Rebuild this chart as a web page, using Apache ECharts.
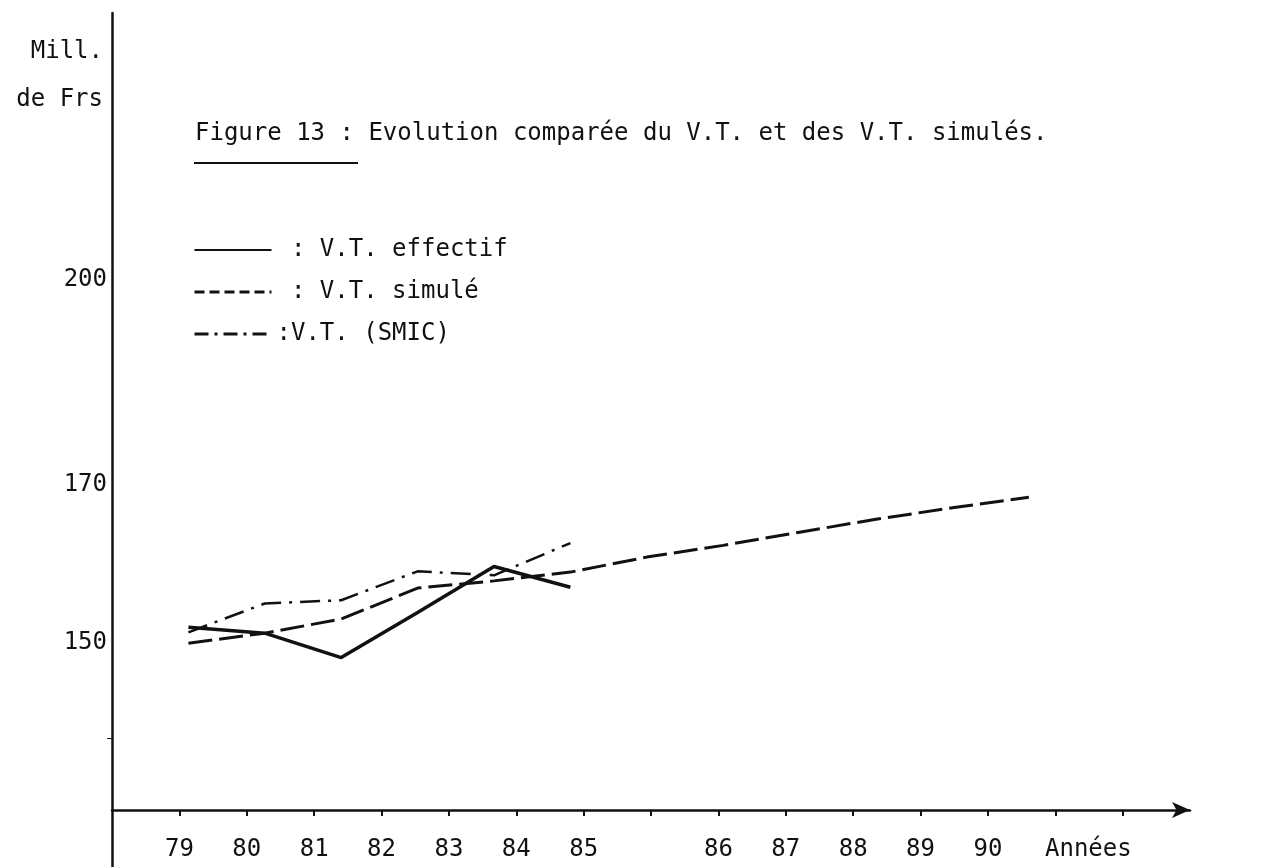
<!DOCTYPE html>
<html>
<head>
<meta charset="utf-8">
<title>Figure 13</title>
<script src="https://cdn.jsdelivr.net/npm/echarts@6/dist/echarts.min.js"></script>
<style>
  html, body { margin: 0; padding: 0; background: #fff; }
  #chart { width: 1265px; height: 867px; }
</style>
</head>
<body>
<div id="chart"></div>
<script>
// années (abscisse des courbes)
const years = [79, 80, 81, 82, 83, 84, 85, 86, 87, 88, 89, 90];
// V.T. en millions de francs
const vtEffectif = [151.8, 151.1, 148.2, 153.6, 159.3, 156.7];
const vtSimule = [149.9, 151.1, 152.8, 156.6, 157.5, 158.6, 160.5, 162.0, 163.7, 165.4, 166.9, 168.3];
const vtSmic = [151.2, 154.7, 155.1, 158.7, 158.2, 162.3];
// libellés sous les graduations de l'axe dessiné (une graduation sans libellé)
const tickLabels = ['79', '80', '81', '82', '83', '84', '85', '', '86', '87', '88', '89', '90', '', ''];
const yLabels = [150, 170, 200];

const seriesNames = ['V.T. effectif', 'V.T. simulé', 'V.T. (SMIC)'];
const legendTexts = [' : V.T. effectif', ' : V.T. simulé', ':V.T. (SMIC)'];

const FONT = "'DejaVu Sans Mono', monospace";
const INK = '#111';

function pairs(values) {
  return values.map((v, i) => [years[i], v]);
}

const chart = echarts.init(document.getElementById('chart'));

const option = {
  animation: false,
  backgroundColor: '#fff',
  title: {
    text: 'Figure 13 : Evolution comparée du V.T. et des V.T. simulés.',
    left: 195,
    top: 122,
    padding: 0,
    textStyle: { fontFamily: FONT, fontSize: 24, fontWeight: 'normal', color: INK }
  },
  legend: {
    orient: 'vertical',
    left: 193,
    top: 237,
    padding: 0,
    itemWidth: 77,
    itemHeight: 14,
    itemGap: 16,
    itemStyle: { opacity: 0 },
    textStyle: { fontFamily: FONT, fontSize: 24, lineHeight: 26, color: INK },
    formatter: name => legendTexts[seriesNames.indexOf(name)],
    data: [
      { name: seriesNames[0], lineStyle: { width: 2, type: 'solid' } },
      { name: seriesNames[1], lineStyle: { width: 3, type: [10, 5] } },
      { name: seriesNames[2], lineStyle: { width: 3, type: [14, 6, 3, 6] } }
    ]
  },
  grid: { left: 112, right: 75, top: 13, bottom: 0 },
  xAxis: [
    // échelle des courbes
    {
      type: 'value',
      min: 78,
      max: 92.11,
      show: false
    },
    // axe dessiné avec ses graduations
    {
      type: 'value',
      position: 'bottom',
      offset: -57,
      min: -1,
      max: 15,
      interval: 1,
      name: 'Années',
      nameLocation: 'end',
      nameGap: -145,
      nameTextStyle: {
        fontFamily: FONT, fontSize: 24, color: INK,
        align: 'left', verticalAlign: 'top', padding: [28, 0, 0, 0]
      },
      splitLine: { show: false },
      axisLine: {
        onZero: false,
        lineStyle: { color: INK, width: 2.5 },
        symbol: ['none', 'arrow'],
        symbolSize: [12, 18]
      },
      axisTick: {
        length: 6,
        lineStyle: { color: INK, width: 2 },
        customValues: [0, 1, 2, 3, 4, 5, 6, 7, 8, 9, 10, 11, 12, 13, 14]
      },
      axisLabel: {
        margin: 28,
        fontFamily: FONT, fontSize: 24, color: INK,
        formatter: v => tickLabels[v] || ''
      }
    }
  ],
  yAxis: {
    type: 'log',
    logBase: 10,
    min: 125.5,
    max: 247.2,
    name: 'Mill.\nde Frs',
    nameLocation: 'end',
    nameGap: -15,
    nameTextStyle: {
      fontFamily: FONT, fontSize: 24, color: INK, lineHeight: 48,
      align: 'right', verticalAlign: 'top', padding: [0, 9, 0, 0]
    },
    splitLine: { show: false },
    axisLine: { show: true, onZero: false, lineStyle: { color: INK, width: 2.5 } },
    axisTick: { show: true, length: 5, lineStyle: { color: INK }, customValues: [139] },
    axisLabel: {
      margin: 5,
      fontFamily: FONT, fontSize: 24, color: INK,
      customValues: yLabels
    }
  },
  series: [
    {
      name: seriesNames[0],
      type: 'line',
      xAxisIndex: 0,
      symbol: 'none',
      lineStyle: { color: INK, width: 3.5, type: 'solid' },
      data: pairs(vtEffectif)
    },
    {
      name: seriesNames[1],
      type: 'line',
      xAxisIndex: 0,
      symbol: 'none',
      lineStyle: { color: INK, width: 3, type: [24, 7] },
      data: pairs(vtSimule)
    },
    {
      name: seriesNames[2],
      type: 'line',
      xAxisIndex: 0,
      symbol: 'none',
      lineStyle: { color: INK, width: 2.5, type: [20, 8, 3, 8] },
      data: pairs(vtSmic)
    }
  ],
  graphic: [
    // soulignement du titre
    {
      type: 'line',
      shape: { x1: 194, y1: 163, x2: 358, y2: 163 },
      style: { stroke: INK, lineWidth: 2 }
    }
  ]
};

chart.setOption(option);
</script>
</body>
</html>
